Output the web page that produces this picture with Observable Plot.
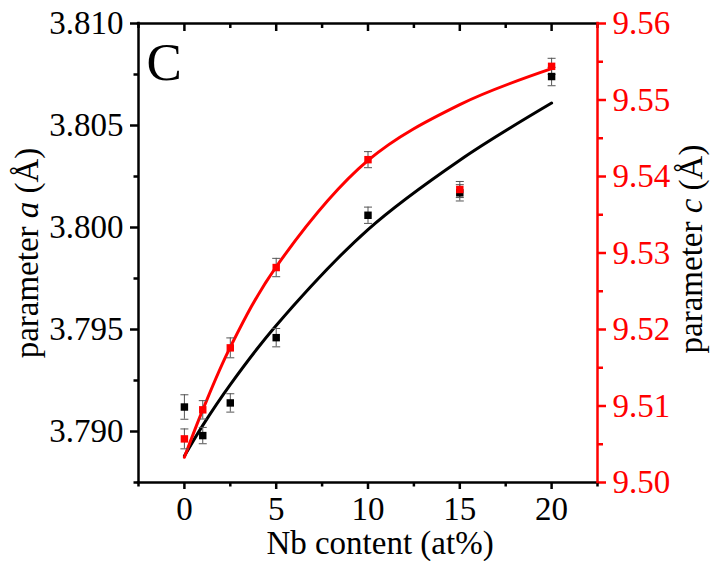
<!DOCTYPE html>
<html>
<head>
<meta charset="utf-8">
<script src="https://cdn.jsdelivr.net/npm/d3@7"></script>
<script src="https://cdn.jsdelivr.net/npm/@observablehq/plot@0.6"></script>
<style>
  html, body { margin: 0; padding: 0; background: #fff; }
  #chart svg { display: block; }
</style>
</head>
<body>
<div id="chart"></div>
<script>
// ---- data ----
const nb = [0, 1, 2.5, 5, 10, 15, 20];
const paramA = [3.7912, 3.7898, 3.7914, 3.7946, 3.8006, 3.8017, 3.8074];
const errA = [0.0006, 0.0004, 0.00045, 0.00045, 0.0004, 0.0004, 0.00045];
const paramC = [9.5057, 9.5095, 9.5176, 9.5281, 9.5422, 9.5383, 9.5544];
const errC = [0.0013, 0.0012, 0.0013, 0.0012, 0.00105, 0.00105, 0.00105];

const fitX = [0, 1, 2.5, 5, 10, 15, 20];
const fitA = [3.7888, 3.7903, 3.7923, 3.7952, 3.7999, 3.8033, 3.8061];
const fitC = [9.5033, 9.5095, 9.5177, 9.5282, 9.5421, 9.5494, 9.5541];

const xTicks = [0, 5, 10, 15, 20];
const xMinor = [-2.5, 2.5, 7.5, 12.5, 17.5, 22.5];
const aTicks = [3.790, 3.795, 3.800, 3.805, 3.810];
const aMinor = [3.7875, 3.7925, 3.7975, 3.8025, 3.8075];
const cTicks = [9.50, 9.51, 9.52, 9.53, 9.54, 9.55, 9.56];
const cMinor = [9.505, 9.515, 9.525, 9.535, 9.545, 9.555];

const xDomain = [-2.5, 22.5];
const aDomain = [3.7875, 3.810];
const cDomain = [9.50, 9.56];

const panelLabel = "C";
const xTitle = "Nb content (at%)";
const aTitle = "parameter a (Å)";
const cTitle = "parameter c (Å)";

// ---- helpers ----
const toA = c => aDomain[0] + (c - cDomain[0]) * (aDomain[1] - aDomain[0]) / (cDomain[1] - cDomain[0]);

const points = nb.map((x, i) => ({x, a: paramA[i], ea: errA[i], c: paramC[i], ec: errC[i]}));
const fits = fitX.map((x, i) => ({x, a: fitA[i], c: fitC[i]}));

const capSymbol = {
  draw(ctx, size) {
    const w = Math.sqrt(size / Math.PI);
    ctx.moveTo(-w, 0);
    ctx.lineTo(w, 0);
  }
};

const RED = "#ff0000";
const GREY = "#555555";
const FONT = "'Liberation Serif', 'Times New Roman', serif";
const tickFont = 33;
const titleFont = 33;
const axW = 2.5;

const chart = Plot.plot({
  width: 712,
  height: 561,
  marginLeft: 138,
  marginRight: 115,
  marginTop: 23,
  marginBottom: 79,
  style: {fontFamily: FONT, background: "#fff"},
  x: {type: "linear", domain: xDomain, axis: null},
  y: {type: "linear", domain: aDomain, axis: null},
  marks: [
    // fitted curves
    Plot.line(fits, {x: "x", y: "a", stroke: "black", strokeWidth: 3, curve: "catmull-rom"}),
    Plot.line(fits, {x: "x", y: d => toA(d.c), stroke: RED, strokeWidth: 3, curve: "catmull-rom"}),

    // error bars (a)
    Plot.ruleX(points, {x: "x", y1: d => d.a - d.ea, y2: d => d.a + d.ea, stroke: GREY, strokeWidth: 1}),
    Plot.dot(points, {x: "x", y: d => d.a - d.ea, symbol: capSymbol, r: 4, stroke: GREY, strokeWidth: 1, fill: "none"}),
    Plot.dot(points, {x: "x", y: d => d.a + d.ea, symbol: capSymbol, r: 4, stroke: GREY, strokeWidth: 1, fill: "none"}),
    // error bars (c)
    Plot.ruleX(points, {x: "x", y1: d => toA(d.c - d.ec), y2: d => toA(d.c + d.ec), stroke: GREY, strokeWidth: 1}),
    Plot.dot(points, {x: "x", y: d => toA(d.c - d.ec), symbol: capSymbol, r: 4, stroke: GREY, strokeWidth: 1, fill: "none"}),
    Plot.dot(points, {x: "x", y: d => toA(d.c + d.ec), symbol: capSymbol, r: 4, stroke: GREY, strokeWidth: 1, fill: "none"}),

    // data points
    Plot.dot(points, {x: "x", y: "a", symbol: "square", r: 4.2, fill: "black", stroke: "none"}),
    Plot.dot(points, {x: "x", y: d => toA(d.c), symbol: "square", r: 4.2, fill: RED, stroke: "none"}),

    // tick marks (labels drawn as text below)
    Plot.axisY({anchor: "left", ticks: aTicks, tickSize: 8, stroke: "black", strokeWidth: axW, fill: "none", label: null}),
    Plot.axisY({anchor: "left", ticks: aMinor, tickSize: 4.5, stroke: "black", strokeWidth: axW, fill: "none", label: null}),
    Plot.axisY({anchor: "right", ticks: cTicks.map(toA), tickSize: 8, stroke: RED, strokeWidth: axW, fill: "none", label: null}),
    Plot.axisY({anchor: "right", ticks: cMinor.map(toA), tickSize: 5, stroke: RED, strokeWidth: axW, fill: "none", label: null}),
    Plot.axisX({anchor: "bottom", ticks: xTicks, tickSize: 7, stroke: "black", strokeWidth: axW, fill: "none", label: null}),
    Plot.axisX({anchor: "bottom", ticks: xMinor, tickSize: 4.5, stroke: "black", strokeWidth: axW, fill: "none", label: null}),
    Plot.axisX({anchor: "top", ticks: xTicks, tickSize: 7, dy: 7, stroke: "black", strokeWidth: axW, fill: "none", label: null}),
    Plot.axisX({anchor: "top", ticks: xMinor, tickSize: 4, dy: 4, stroke: "black", strokeWidth: axW, fill: "none", label: null}),

    // tick labels
    Plot.text(aTicks, {x: () => xDomain[0], y: d => d, text: d3.format(".3f"), dx: -15, textAnchor: "end",
      lineAnchor: "middle", fontSize: tickFont, fill: "black"}),
    Plot.text(cTicks, {x: () => xDomain[1], y: d => toA(d), text: d => d.toFixed(2), dx: 15, textAnchor: "start",
      lineAnchor: "middle", fontSize: tickFont, fill: RED}),
    Plot.text(xTicks, {x: d => d, y: () => aDomain[0], text: d => String(d), dy: 14, textAnchor: "middle",
      lineAnchor: "top", fontSize: tickFont, fill: "black"}),

    // frame lines
    Plot.ruleY([aDomain[1]], {stroke: "black", strokeWidth: axW, strokeLinecap: "square"}),
    Plot.ruleY([aDomain[0]], {stroke: "black", strokeWidth: axW, strokeLinecap: "square"}),
    Plot.ruleX([xDomain[0]], {stroke: "black", strokeWidth: axW, strokeLinecap: "square"}),
    Plot.ruleX([xDomain[1]], {stroke: RED, strokeWidth: axW, strokeLinecap: "square"}),

    // titles
    Plot.text([xTitle], {text: d => d, frameAnchor: "bottom", dy: 71, lineAnchor: "bottom", textAnchor: "middle",
      fontSize: titleFont, fill: "black", dx: 12}),
    Plot.text([aTitle], {text: d => d, frameAnchor: "left", rotate: -90, dx: -101, lineAnchor: "bottom", textAnchor: "middle",
      fontSize: titleFont, fill: "black"}),
    Plot.text([cTitle], {text: d => d, frameAnchor: "right", rotate: -90, dx: 104, dy: -4, lineAnchor: "bottom", textAnchor: "middle",
      fontSize: titleFont, fill: "black"}),
    Plot.text([panelLabel], {text: d => d, frameAnchor: "top-left", dx: 8, dy: 56, lineAnchor: "bottom", textAnchor: "start",
      fontSize: 53, fill: "black"})
  ]
});

// italicize the variable letters in the axis titles
d3.select(chart).selectAll("text").each(function () {
  const t = this.textContent;
  const m = t.match(/^parameter ([ac]) \(Å\)$/);
  if (m) {
    const sel = d3.select(this);
    sel.text(null);
    sel.append("tspan").text("parameter ");
    sel.append("tspan").attr("font-style", "italic").text(m[1]);
    sel.append("tspan").text(" (Å)");
  }
});

document.getElementById("chart").appendChild(chart);
</script>
</body>
</html>
